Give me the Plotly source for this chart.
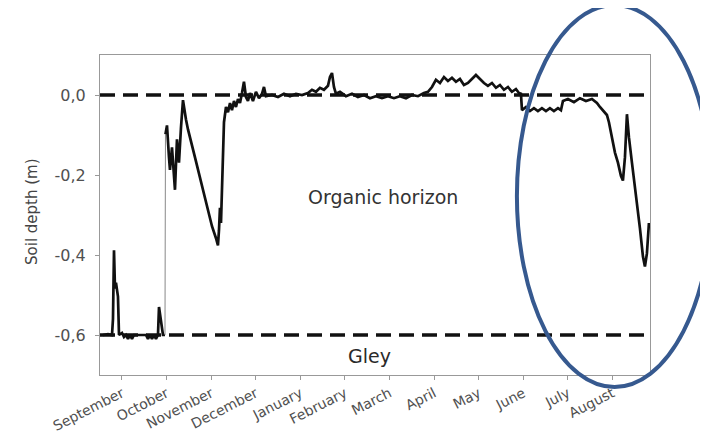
import plotly.graph_objects as go

# ---- data (months since September tick, soil depth in m) ----
month_labels = ["September", "October", "November", "December", "January", "February",
                "March", "April", "May", "June", "July", "August"]
month_ticks = list(range(12))
y_ticks = [0.0, -0.2, -0.4, -0.6]
y_tick_labels = ["0,0", "-0,2", "-0,4", "-0,6"]
boundary_depths = [0.0, -0.6]

t = [-0.426, -0.314, -0.224, -0.202, -0.179, -0.157, -0.135, -0.090, -0.067, 0.000,
     0.045, 0.090, 0.135, 0.179, 0.224, 0.269, 0.404, 0.538, 0.583, 0.628,
     0.673, 0.717, 0.762, 0.807, 0.830, 0.874, 0.919, 0.964,
     0.975, 1.009, 1.054, 1.076, 1.121, 1.166, 1.188, 1.233, 1.278, 1.323,
     1.368, 1.435, 1.480, 1.637, 1.861, 2.018, 2.108, 2.152, 2.175, 2.197,
     2.220, 2.242, 2.265, 2.287, 2.332, 2.377, 2.422, 2.466, 2.511, 2.556,
     2.601, 2.646, 2.691, 2.735, 2.780, 2.825, 2.870, 2.937, 3.004, 3.072,
     3.139, 3.184, 3.229, 3.363, 3.498, 3.632, 3.767, 3.901, 4.036, 4.170,
     4.260, 4.350, 4.439, 4.529, 4.619, 4.664, 4.709, 4.753, 4.798, 4.888,
     5.022, 5.157, 5.291, 5.426, 5.561, 5.695, 5.830, 5.964, 6.099, 6.233,
     6.368, 6.502, 6.637, 6.771, 6.861, 6.951, 7.040, 7.130, 7.220, 7.309,
     7.399, 7.489, 7.578, 7.668, 7.758, 7.848, 7.937, 8.027, 8.117, 8.206,
     8.296, 8.386, 8.475, 8.565, 8.655, 8.744, 8.834, 8.901, 8.946, 8.969,
     9.058, 9.148, 9.238, 9.327, 9.417, 9.507, 9.596, 9.686, 9.776, 9.843,
     9.888, 10.000, 10.135, 10.269, 10.404, 10.538, 10.650, 10.717, 10.807, 10.874,
     10.919, 10.987, 11.054, 11.121, 11.188, 11.233, 11.278, 11.323, 11.368, 11.435,
     11.525, 11.614, 11.682, 11.726, 11.771, 11.816]

depth = [-0.600, -0.598, -0.600, -0.560, -0.388, -0.484, -0.469, -0.504, -0.600, -0.595,
         -0.605, -0.600, -0.610, -0.600, -0.610, -0.600, -0.600, -0.600, -0.610, -0.600,
         -0.610, -0.600, -0.610, -0.600, -0.530, -0.560, -0.600, -0.600,
         -0.098, -0.076, -0.156, -0.187, -0.131, -0.219, -0.237, -0.111, -0.169, -0.081,
         -0.013, -0.061, -0.086, -0.156, -0.257, -0.328, -0.358, -0.376, -0.338, -0.282,
         -0.320, -0.232, -0.156, -0.068, -0.030, -0.043, -0.020, -0.038, -0.015, -0.030,
         -0.010, -0.020, 0.005, 0.033, -0.005, -0.015, 0.005, -0.015, 0.008, -0.008,
         0.003, 0.020, -0.003, 0.000, -0.005, 0.003, -0.003, 0.003, 0.000, 0.005,
         0.013, 0.008, 0.018, 0.013, 0.023, 0.045, 0.055, 0.020, 0.003, 0.008,
         -0.003, 0.003, -0.005, 0.000, -0.008, -0.003, -0.008, -0.003, -0.008, -0.003,
         -0.008, 0.000, -0.003, 0.005, 0.008, 0.020, 0.038, 0.030, 0.045, 0.035,
         0.043, 0.033, 0.040, 0.025, 0.030, 0.040, 0.050, 0.040, 0.030, 0.023,
         0.030, 0.018, 0.025, 0.013, 0.020, 0.008, 0.015, 0.005, 0.003, -0.038,
         -0.030, -0.040, -0.033, -0.040, -0.033, -0.040, -0.033, -0.040, -0.033, -0.038,
         -0.015, -0.010, -0.018, -0.008, -0.015, -0.010, -0.020, -0.030, -0.040, -0.050,
         -0.068, -0.106, -0.144, -0.169, -0.202, -0.214, -0.156, -0.048, -0.106, -0.169,
         -0.245, -0.333, -0.404, -0.429, -0.396, -0.320]

jump = 28  # index where the record jumps from the gley up into the organic horizon

fig = go.Figure()
fig.add_trace(go.Scatter(x=t[:jump], y=depth[:jump], mode="lines",
                         line=dict(color="#111111", width=2.7), showlegend=False))
fig.add_trace(go.Scatter(x=t[jump - 1:jump + 1], y=depth[jump - 1:jump + 1], mode="lines",
                         line=dict(color="#888888", width=1), showlegend=False))
fig.add_trace(go.Scatter(x=t[jump:], y=depth[jump:], mode="lines",
                         line=dict(color="#111111", width=2.7), showlegend=False))

for d in boundary_depths:
    fig.add_shape(type="line", xref="paper", x0=0, x1=1, yref="y", y0=d, y1=d,
                  line=dict(color="#111111", width=3.5, dash="15px,8px"), layer="below")

font_family = "DejaVu Sans, Arial, sans-serif"

fig.add_annotation(x=5.85, y=-0.255, xref="x", yref="y", text="Organic horizon",
                   showarrow=False, font=dict(family=font_family, size=19, color="#333333"))
fig.add_annotation(x=5.56, y=-0.653, xref="x", yref="y", text="Gley",
                   showarrow=False, font=dict(family=font_family, size=19, color="#2a2a2a"))
fig.add_annotation(x=-0.124, y=0.512, xref="paper", yref="paper", text="Soil depth (m)",
                   textangle=-90, showarrow=False, xanchor="center", yanchor="middle",
                   font=dict(family=font_family, size=15, color="#444444"))

# highlight ellipse
fig.add_shape(type="circle", xref="paper", yref="paper",
              x0=0.758, x1=1.113, y0=-0.0375, y1=1.156,
              line=dict(color="#36598f", width=4), layer="above")

# the page body adds an 8px offset, so the figure is 8px smaller in each direction
fig.update_layout(
    width=700, height=427,
    margin=dict(l=92, r=58, t=47, b=60, autoexpand=False),
    paper_bgcolor="white", plot_bgcolor="white",
    font=dict(family=font_family, color="#444444"),
    showlegend=False,
)
fig.update_xaxes(
    range=[-0.493, 11.84], tickvals=month_ticks, ticktext=month_labels,
    tickangle=-27, tickfont=dict(size=14, color="#505050"), automargin=False,
    showgrid=False, zeroline=False, showline=True, linecolor="#999999", linewidth=1,
    mirror=True, ticks="outside", ticklen=4, tickcolor="#999999",
)
fig.update_yaxes(
    range=[-0.7, 0.1], tickvals=y_ticks, ticktext=y_tick_labels, automargin=False,
    tickfont=dict(size=16, color="#505050"), ticklabelstandoff=6,
    showgrid=False, zeroline=False, showline=True, linecolor="#999999", linewidth=1,
    mirror=True, ticks="outside", ticklen=4, tickcolor="#999999",
)

fig.write_html("out.html")
